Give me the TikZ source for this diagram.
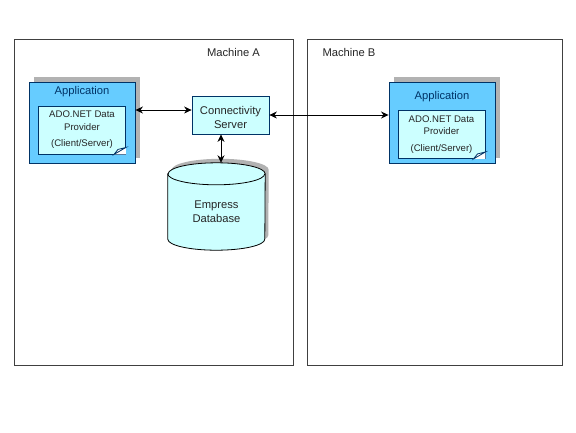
\documentclass[tikz,border=0pt]{standalone}
\usepackage{fontspec}
\setmainfont{Liberation Sans}
\usepackage{xcolor}
\usetikzlibrary{
    arrows.meta,
    calc,
    positioning,
    shadows
}
\definecolor{framegray}{HTML}{404040}
\definecolor{shadowgray}{HTML}{B2B2B2}
\definecolor{appblue}{HTML}{66CCFF}
\definecolor{appline}{HTML}{003366}
\definecolor{doccyan}{HTML}{CCFFFF}
\definecolor{labelgray}{HTML}{262626}
\tikzstyle{arrow}=[line width=0.8pt,<->,>={Stealth[length=7.5pt,width=7pt]},draw=black]
% folded corner of a document box
\newcommand{\docfold}[1]{%
\fill[white] ($(#1.south east)+(-12,0)$) -- (#1.south east) -- ($(#1.south east)+(0,-7)$) -- cycle;
\filldraw[draw=appline,fill=white,line width=0.8pt] ($(#1.south east)+(-12,0)$) -- ($(#1.south east)+(0,-7)$)
  -- ($(#1.south east)+(-8,-5)$) -- cycle;
}
% outline of the database drum, moved by (#1,#2)
\newcommand{\dbpath}[2]{
($(database.north west)+(#1,#2+11)$) -- ($(database.south west)+(#1,#2-11)$)
  arc[start angle=180,end angle=360,x radius=48.5pt,y radius=11pt]
  -- ($(database.north east)+(#1,#2+11)$)
  arc[start angle=0,end angle=180,x radius=48.5pt,y radius=11pt] -- cycle
}

\begin{document}
\begin{tikzpicture}[
    x=1pt,y=-1pt,
    machine/.style={
        rectangle,
        draw=framegray,
        fill=white,
        line width=0.8pt,
        inner sep=0pt
    },
    app/.style={
        rectangle,
        draw=appline,
        fill=appblue,
        line width=0.9pt,
        minimum width=106pt,
        minimum height=81pt,
        inner sep=0pt,
        drop shadow={shadow xshift=5pt,shadow yshift=5pt,fill=shadowgray,opacity=1}
    },
    doc/.style={
        rectangle,
        draw=appline,
        fill=doccyan,
        line width=0.9pt,
        minimum width=87pt,
        minimum height=48pt,
        inner sep=0pt,
        align=center,
        text=labelgray,
        font=\fontsize{9.6}{12.5}\selectfont
    },
    label/.style={
        font=\fontsize{11.2}{14}\selectfont,
        text=labelgray,
        inner sep=0pt,
        align=center
    }
]
\useasboundingbox (0,0) rectangle (576,432);

\node[machine,minimum width=279pt,minimum height=326pt] (machinea) at (154,202) {};
\node[machine,minimum width=255pt,minimum height=326pt] (machineb) at (434.5,202) {};
\node[label] (machinealabel) at (233.5,52.5) {Machine A};
\node[label] (machineblabel) at (349,52.5) {Machine B};

\node[app] (appa) at (82,122.5) {};
\node[label,text=appline] (appatitle) at (82,92) {Application};
\node[doc] (doca) at (82,130) {ADO.NET Data\\Provider\\[4pt](Client/Server)};
\docfold{doca}

\node[app] (appb) at (442,122.5) {};
\node[label,text=appline] (appbtitle) at (442,96.5) {Application};
\node[doc] (docb) at (441.5,134.5) {ADO.NET Data\\Provider\\[4pt](Client/Server)};
\docfold{docb}

\node[rectangle,draw=appline,fill=doccyan,line width=0.8pt,minimum width=77pt,minimum height=38pt,
    inner sep=0pt] (server) at (230.5,115) {};
\node[label] (serverlabel) at (230.5,117) {Connectivity\\Server};

\node[minimum width=97pt,minimum height=87pt,inner sep=0pt] (database) at (216.5,206.5) {};
\fill[shadowgray] \dbpath{3.5}{-4};
\filldraw[draw=black,fill=doccyan,line width=0.8pt] \dbpath{0}{0};
\draw[line width=0.8pt] ($(database.north west)+(0,11)$)
  arc[start angle=180,end angle=360,x radius=48.5pt,y radius=11pt];
\node[label] (databaselabel) at (216.5,212) {Empress\\Database};

\draw[arrow] ([yshift=5pt]server.west) -- ([yshift=5pt]server.west -| appa.east);
\draw[arrow] (server.east) -- (server.east -| appb.west);
\draw[arrow] ([xshift=-9.5pt]server.south) -- ([xshift=4.5pt]database.north);
\end{tikzpicture}
\end{document}
